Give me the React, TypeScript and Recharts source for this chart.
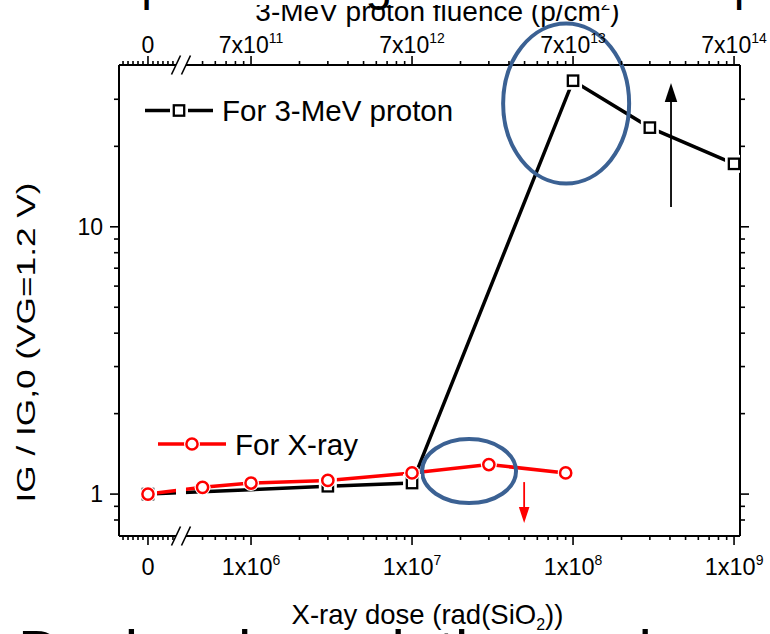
import React from "react";
import {
  LineChart,
  Line,
  XAxis,
  YAxis,
  Legend,
  ReferenceArea,
  ReferenceLine,
  ReferenceDot,
} from "recharts";

const FONT = '"Liberation Sans", Arial, Helvetica, sans-serif';
const BLUE = "#3b6193";
const RED = "#ff0000";

// broken x axis: "0" sits left of the break, the decades right of it (log10 units)
const ZERO_POS = 5.36;
const LIN_STEP = 0.031;
const BREAK_LEFT = 5.534;
const BREAK_RIGHT = 5.596;
const X_DOMAIN = [5.18, 9.037];
const Y_DOMAIN = [0.697, 40.3];

const protonDose = [0, 3e6, 1e7, 1e8, 3e8, 1e9];
const protonRatio = [1.0, 1.07, 1.1, 35.2, 23.5, 17.2];

const xrayDose = [0, 5e5, 1e6, 3e6, 1e7, 3e7, 9e7];
const xrayRatio = [1.0, 1.06, 1.1, 1.125, 1.2, 1.29, 1.2];

const doseTicks = [0, 1e6, 1e7, 1e8, 1e9];
const doseTickBase = ["0", "1x10", "1x10", "1x10", "1x10"];
const doseTickExp = ["", "6", "7", "8", "9"];
const fluenceTickBase = ["0", "7x10", "7x10", "7x10", "7x10"];
const fluenceTickExp = ["", "11", "12", "13", "14"];

const ratioTicks = [1, 10];
const ratioTickLabels = ["1", "10"];

// circled regions and arrows (dose, ratio)
const circleDose = [9.06e7, 2.26e7];
const circleRatio = [28.9, 1.219];
const arrowDose = [4.06e8, 4.97e7];
const arrowFrom = [11.85, 1.109];
const arrowTo = [34.5, 0.779];

const toPos = (dose: number) => (dose === 0 ? ZERO_POS : Math.log10(dose));

const protonData = protonDose.map((d, i) => ({ x: toPos(d), y: protonRatio[i] }));
const xrayData = xrayDose.map((d, i) => ({ x: toPos(d), y: xrayRatio[i] }));

const majorX = doseTicks.map(toPos);
const xTicks: number[] = [...majorX];
for (let k = -5; k <= 5; k++) {
  if (k !== 0) xTicks.push(ZERO_POS + k * LIN_STEP);
}
for (let e = 5; e <= 8; e++) {
  for (let m = 2; m <= 9; m++) {
    const v = e + Math.log10(m);
    if (v > BREAK_RIGHT + 0.02 && v < X_DOMAIN[1]) xTicks.push(v);
  }
}
xTicks.sort((a, b) => a - b);

const yTicks: number[] = [];
for (let e = -1; e <= 1; e++) {
  for (let m = 1; m <= 9; m++) {
    const v = m * Math.pow(10, e);
    if (v > Y_DOMAIN[0] * 1.03 && v < Y_DOMAIN[1] / 1.03) yTicks.push(v);
  }
}

const findMajor = (list: number[], v: number) =>
  list.findIndex((m) => Math.abs(m - v) < 1e-6);

const TICK_W = 1.6;

function BottomTick(props: any) {
  const { x, y, payload } = props;
  const i = findMajor(majorX, payload.value);
  return (
    <g>
      <line x1={x} y1={y} x2={x} y2={y + (i >= 0 ? 9 : 4)} stroke="#000" strokeWidth={TICK_W} />
      {i >= 0 && (
        <text x={x} y={y + 39} textAnchor="middle" fontSize={23.5} fontFamily={FONT} fill="#000">
          {doseTickBase[i]}
          {doseTickExp[i] && (
            <tspan dy={-10} fontSize={14}>
              {doseTickExp[i]}
            </tspan>
          )}
        </text>
      )}
    </g>
  );
}

function TopTick(props: any) {
  const { x, y, payload } = props;
  const i = findMajor(majorX, payload.value);
  return (
    <g>
      <line x1={x} y1={y} x2={x} y2={y - (i >= 0 ? 9 : 4)} stroke="#000" strokeWidth={TICK_W} />
      {i >= 0 && (
        <text x={x} y={y - 12} textAnchor="middle" fontSize={23} fontFamily={FONT} fill="#000">
          {fluenceTickBase[i]}
          {fluenceTickExp[i] && (
            <tspan dy={-10} fontSize={14}>
              {fluenceTickExp[i]}
            </tspan>
          )}
        </text>
      )}
    </g>
  );
}

function LeftTick(props: any) {
  const { x, y, payload } = props;
  const i = findMajor(ratioTicks, payload.value);
  return (
    <g>
      <line x1={x} y1={y} x2={x - (i >= 0 ? 9 : 5)} y2={y} stroke="#000" strokeWidth={TICK_W} />
      {i >= 0 && (
        <text x={x - 16} y={y + 8} textAnchor="end" fontSize={23} fontFamily={FONT} fill="#000">
          {ratioTickLabels[i]}
        </text>
      )}
    </g>
  );
}

function RightTick(props: any) {
  const { x, y, payload } = props;
  const i = findMajor(ratioTicks, payload.value);
  return <line x1={x} y1={y} x2={x + (i >= 0 ? 9 : 5)} y2={y} stroke="#000" strokeWidth={TICK_W} />;
}

function squareMarker(cx: number, cy: number, key?: string) {
  return (
    <g key={key}>
      <rect x={cx - 9} y={cy - 9} width={18} height={18} fill="#fff" />
      <rect x={cx - 5.2} y={cy - 5.2} width={10.4} height={10.4} fill="#fff" stroke="#000" strokeWidth={2.3} />
    </g>
  );
}

function circleMarker(cx: number, cy: number, key?: string) {
  return (
    <g key={key}>
      <circle cx={cx} cy={cy} r={8} fill="#fff" />
      <circle cx={cx} cy={cy} r={5.6} fill="#fff" stroke={RED} strokeWidth={2.5} />
    </g>
  );
}

const renderSquare = (p: any) => squareMarker(p.cx, p.cy, `sq-${p.index}`);
const renderCircle = (p: any) => circleMarker(p.cx, p.cy, `ci-${p.index}`);

// legend entries are placed inside the plot like the original
const legendSpots: Record<string, { x: number; y: number; shape: "square" | "circle" }> = {
  "For 3-MeV proton": { x: 145, y: 110.5, shape: "square" },
  "For X-ray": { x: 158, y: 444, shape: "circle" },
};

function renderLegend(props: any) {
  const { payload = [] } = props;
  return (
    <svg width={770} height={634} style={{ position: "absolute", left: 0, top: 0, overflow: "visible" }}>
      {payload.map((entry: any) => {
        const spot = legendSpots[entry.value];
        if (!spot) return null;
        const mid = spot.x + 34;
        return (
          <g key={entry.value}>
            <line x1={spot.x} y1={spot.y} x2={spot.x + 68} y2={spot.y} stroke={entry.color} strokeWidth={3.5} />
            {spot.shape === "square" ? squareMarker(mid, spot.y) : circleMarker(mid, spot.y)}
            <text x={spot.x + 77} y={spot.y + 10.5} fontSize={29.5} fontFamily={FONT} fill="#000">
              {entry.value}
            </text>
          </g>
        );
      })}
    </svg>
  );
}

function BreakShape(props: any) {
  const { x, y, width, height } = props;
  const x1 = x;
  const x2 = x + width;
  const slash = (cx: number, cy: number, k: string) => (
    <line key={k} x1={cx - 4.5} y1={cy + 9.5} x2={cx + 4.5} y2={cy - 9.5} stroke="#000" strokeWidth={1.6} />
  );
  return (
    <g>
      <rect x={x1} y={y - 4} width={x2 - x1} height={height + 8} fill="#fff" />
      {slash(x1, y, "t1")}
      {slash(x2, y, "t2")}
      {slash(x1, y + height, "b1")}
      {slash(x2, y + height, "b2")}
    </g>
  );
}

function arrowShape(color: string, width: number, head: number) {
  return (props: any) => {
    const { x1, y1, x2, y2 } = props;
    const dir = y2 < y1 ? -1 : 1;
    return (
      <g>
        <line x1={x1} y1={y1} x2={x2} y2={y2 - dir * head} stroke={color} strokeWidth={width} />
        <polygon
          points={`${x2},${y2} ${x2 - head * 0.33},${y2 - dir * head} ${x2 + head * 0.33},${y2 - dir * head}`}
          fill={color}
        />
      </g>
    );
  };
}

export default function App() {
  return (
    <div
      style={{
        position: "absolute",
        left: 0,
        top: 0,
        width: 770,
        height: 634,
        background: "#fff",
        fontFamily: FONT,
        overflow: "hidden",
      }}
    >
      <LineChart width={770} height={634} margin={{ top: 0, right: 0, bottom: 0, left: 0 }}>
        <XAxis
          xAxisId="bottom"
          type="number"
          dataKey="x"
          domain={X_DOMAIN}
          ticks={xTicks}
          interval={0}
          allowDataOverflow
          height={98}
          tickSize={0}
          tickMargin={0}
          tick={<BottomTick />}
          axisLine={{ stroke: "#000", strokeWidth: 2 }}
          label={{
            content: (p: any) => {
              const vb = p.viewBox;
              return (
                <text
                  x={vb.x + vb.width / 2 - 2}
                  y={vb.y + 88}
                  textAnchor="middle"
                  fontSize={27.5}
                  fontFamily={FONT}
                  fill="#000"
                >
                  X-ray dose (rad(SiO
                  <tspan dy={6} fontSize={16}>
                    2
                  </tspan>
                  <tspan dy={-6}>))</tspan>
                </text>
              );
            },
          }}
        />
        <XAxis
          xAxisId="top"
          orientation="top"
          type="number"
          dataKey="x"
          domain={X_DOMAIN}
          ticks={xTicks}
          interval={0}
          allowDataOverflow
          height={65}
          tickSize={0}
          tickMargin={0}
          tick={<TopTick />}
          axisLine={{ stroke: "#000", strokeWidth: 2 }}
          label={{
            content: (p: any) => {
              const vb = p.viewBox;
              return (
                <text
                  x={vb.x + vb.width / 2 + 8}
                  y={21}
                  textAnchor="middle"
                  fontSize={28}
                  fontFamily={FONT}
                  fill="#000"
                >
                  3-MeV proton fluence (p/cm
                  <tspan dy={-11} fontSize={17}>
                    2
                  </tspan>
                  <tspan dy={11}>)</tspan>
                </text>
              );
            },
          }}
        />
        <YAxis
          yAxisId="left"
          type="number"
          scale="log"
          domain={Y_DOMAIN}
          ticks={yTicks}
          interval={0}
          allowDataOverflow
          width={119}
          tickSize={0}
          tickMargin={0}
          tick={<LeftTick />}
          axisLine={{ stroke: "#000", strokeWidth: 2 }}
          label={{
            content: (p: any) => {
              const vb = p.viewBox;
              const cx = vb.x + 26;
              const cy = vb.y + vb.height / 2 + 42;
              return (
                <text
                  transform={`translate(${cx} ${cy}) rotate(-90) scale(1.41 1)`}
                  x={0}
                  y={0}
                  textAnchor="middle"
                  dominantBaseline="central"
                  fontSize={25}
                  fontFamily={FONT}
                  fill="#000"
                >
                  IG / IG,0 (VG=1.2 V)
                </text>
              );
            },
          }}
        />
        <YAxis
          yAxisId="right"
          orientation="right"
          type="number"
          scale="log"
          domain={Y_DOMAIN}
          ticks={yTicks}
          interval={0}
          allowDataOverflow
          width={30}
          tickSize={0}
          tickMargin={0}
          tick={<RightTick />}
          axisLine={{ stroke: "#000", strokeWidth: 2 }}
        />

        <Line
          data={protonData}
          dataKey="y"
          name="For 3-MeV proton"
          xAxisId="bottom"
          yAxisId="left"
          stroke="#000"
          strokeWidth={3.5}
          dot={renderSquare}
          activeDot={false}
          isAnimationActive={false}
        />
        <Line
          data={xrayData}
          dataKey="y"
          name="For X-ray"
          xAxisId="bottom"
          yAxisId="left"
          stroke={RED}
          strokeWidth={3.5}
          dot={renderCircle}
          activeDot={false}
          isAnimationActive={false}
        />

        <ReferenceDot
          xAxisId="bottom"
          yAxisId="left"
          x={toPos(circleDose[0])}
          y={circleRatio[0]}
          ifOverflow="visible"
          shape={(p: any) => <ellipse cx={p.cx} cy={p.cy} rx={63} ry={80} fill="none" stroke={BLUE} strokeWidth={4} />}
        />
        <ReferenceDot
          xAxisId="bottom"
          yAxisId="left"
          x={toPos(circleDose[1])}
          y={circleRatio[1]}
          ifOverflow="visible"
          shape={(p: any) => <ellipse cx={p.cx} cy={p.cy} rx={47} ry={32} fill="none" stroke={BLUE} strokeWidth={4} />}
        />
        <ReferenceLine
          xAxisId="bottom"
          yAxisId="left"
          segment={[
            { x: toPos(arrowDose[0]), y: arrowFrom[0] },
            { x: toPos(arrowDose[0]), y: arrowTo[0] },
          ]}
          ifOverflow="visible"
          shape={arrowShape("#000", 1.8, 19)}
        />
        <ReferenceLine
          xAxisId="bottom"
          yAxisId="left"
          segment={[
            { x: toPos(arrowDose[1]), y: arrowFrom[1] },
            { x: toPos(arrowDose[1]), y: arrowTo[1] },
          ]}
          ifOverflow="visible"
          shape={arrowShape(RED, 1.8, 16)}
        />
        <ReferenceArea
          xAxisId="bottom"
          yAxisId="left"
          x1={BREAK_LEFT}
          x2={BREAK_RIGHT}
          ifOverflow="visible"
          zIndex={2000}
          shape={<BreakShape />}
        />

        <Legend
          layout="horizontal"
          verticalAlign="middle"
          align="center"
          wrapperStyle={{ left: 0, top: 0, width: 770, height: 634, pointerEvents: "none" }}
          content={renderLegend}
        />
      </LineChart>

      {/* slide text around the figure, mostly outside the visible crop */}
      <svg width={770} height={634} style={{ position: "absolute", left: 0, top: 0, pointerEvents: "none" }}>
        <rect x={0} y={0} width={770} height={5} fill="#fff" />
        <text x={40} y={0} fontSize={48} fontFamily={FONT} fill="#000">
          Comparison of gate current with proton
        </text>
        <text x={18} y={672} fontSize={60} fontFamily={FONT} fill="#000">
          Device degradation and annealing
        </text>
      </svg>
    </div>
  );
}
